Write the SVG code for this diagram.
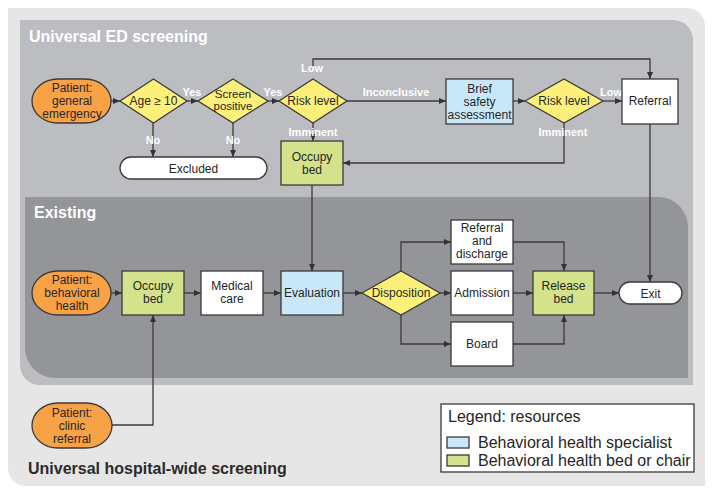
<svg xmlns="http://www.w3.org/2000/svg" width="714" height="495" viewBox="0 0 714 495">
<style>
text{font-family:"Liberation Sans",Arial,sans-serif;}
.t{font-size:12px;fill:#262626;text-anchor:middle;}
.lbl{font-size:11px;font-weight:bold;fill:#ffffff;text-anchor:middle;}
.title{font-size:16px;font-weight:bold;fill:#ffffff;}
.nd{stroke:#3a3a3a;stroke-width:1.3;}
.pat{fill:#f7a246;}
.dec{fill:#fdf07a;}
.bed{fill:#d4e38b;}
.spec{fill:#c8e8f8;}
.wht{fill:#ffffff;}
.cn{fill:none;stroke:#3a3a3a;stroke-width:1.3;}
</style>
<defs>
<marker id="ah" markerWidth="8" markerHeight="8" refX="7" refY="4" orient="auto" markerUnits="userSpaceOnUse">
<path d="M0,1 L7,4 L0,7 Z" fill="#333333"/>
</marker>
</defs>

<g id="panels">
<path d="M8,8 H687 A18,18 0 0 1 705,26 V486 H26 A18,18 0 0 1 8,468 Z" fill="#e6e6e7"/>
<path d="M20,20 H673 A20,20 0 0 1 693,40 V385 H40 A20,20 0 0 1 20,365 Z" fill="#bcbdc0"/>
<path d="M25,197 H658 A30,30 0 0 1 688,227 V378 H55 A30,30 0 0 1 25,348 Z" fill="#949599"/>
<text class="title" x="29" y="42">Universal ED screening</text>
<text class="title" x="34" y="218">Existing</text>
<text x="28" y="474" style="font-size:16px;font-weight:bold;fill:#2b2b2b">Universal hospital-wide screening</text>
</g>

<g id="connectors">
<path class="cn" d="M111,101 H120" marker-end="url(#ah)"/>
<path class="cn" d="M187,101 H198" marker-end="url(#ah)"/>
<path class="cn" d="M268,101 H279" marker-end="url(#ah)"/>
<path class="cn" d="M313,66 V59 H650 V79" marker-end="url(#ah)"/>
<path class="cn" d="M347,101 H446" marker-end="url(#ah)"/>
<path class="cn" d="M513,101 H525" marker-end="url(#ah)"/>
<path class="cn" d="M603,101 H622" marker-end="url(#ah)"/>
<path class="cn" d="M153,123 V157" marker-end="url(#ah)"/>
<path class="cn" d="M233,123 V157" marker-end="url(#ah)"/>
<path class="cn" d="M313,123 V141" marker-end="url(#ah)"/>
<path class="cn" d="M564,123 V163 H343" marker-end="url(#ah)"/>
<path class="cn" d="M312,185 V271" marker-end="url(#ah)"/>
<path class="cn" d="M650,124 V282" marker-end="url(#ah)"/>
<path class="cn" d="M111,293 H122" marker-end="url(#ah)"/>
<path class="cn" d="M184,293 H201" marker-end="url(#ah)"/>
<path class="cn" d="M263,293 H281" marker-end="url(#ah)"/>
<path class="cn" d="M343,293 H362" marker-end="url(#ah)"/>
<path class="cn" d="M401,271 V242 H451" marker-end="url(#ah)"/>
<path class="cn" d="M440,293 H451" marker-end="url(#ah)"/>
<path class="cn" d="M401,315 V344 H451" marker-end="url(#ah)"/>
<path class="cn" d="M513,242 H564 V271" marker-end="url(#ah)"/>
<path class="cn" d="M513,293 H533" marker-end="url(#ah)"/>
<path class="cn" d="M513,344 H564 V315" marker-end="url(#ah)"/>
<path class="cn" d="M594,293 H619" marker-end="url(#ah)"/>
<path class="cn" d="M112,425 H153 V315" marker-end="url(#ah)"/>
<text class="lbl" x="192" y="96">Yes</text>
<text class="lbl" x="273" y="96">Yes</text>
<text class="lbl" x="312" y="72">Low</text>
<text class="lbl" x="396" y="96">Inconclusive</text>
<text class="lbl" x="611" y="96">Low</text>
<text class="lbl" x="153" y="144">No</text>
<text class="lbl" x="233" y="144">No</text>
<text class="lbl" x="313" y="136">Imminent</text>
<text class="lbl" x="563" y="136">Imminent</text>
</g>

<g id="patient-general">
<rect class="nd pat" x="32" y="79" width="79" height="44" rx="26" ry="22"/>
<text class="t" x="72" y="92">Patient:</text>
<text class="t" x="72" y="105">general</text>
<text class="t" x="72" y="118">emergency</text>
</g>
<g id="age">
<polygon class="nd dec" points="120,101 153.5,79 187,101 153.5,123"/>
<text class="t" x="153.5" y="105">Age ≥ 10</text>
</g>
<g id="screen">
<polygon class="nd dec" points="198,101 233,79 268,101 233,123"/>
<text class="t" x="233" y="98" style="font-size:11.5px">Screen</text>
<text class="t" x="233" y="110" style="font-size:11.5px">positive</text>
</g>
<g id="risk1">
<polygon class="nd dec" points="279,101 313,79 347,101 313,123"/>
<text class="t" x="313" y="105">Risk level</text>
</g>
<g id="excluded">
<rect class="nd wht" x="120" y="157" width="147" height="22" rx="11"/>
<text class="t" x="193.5" y="173">Excluded</text>
</g>
<g id="occupy1">
<rect class="nd bed" x="281" y="141" width="62" height="44"/>
<text class="t" x="312" y="161">Occupy</text>
<text class="t" x="312" y="174">bed</text>
</g>
<g id="brief">
<rect class="nd spec" x="446" y="79" width="67" height="45"/>
<text class="t" x="479.5" y="93">Brief</text>
<text class="t" x="479.5" y="106">safety</text>
<text class="t" x="479.5" y="119">assessment</text>
</g>
<g id="risk2">
<polygon class="nd dec" points="525,101 564,79 603,101 564,123"/>
<text class="t" x="564" y="105">Risk level</text>
</g>
<g id="referral">
<rect class="nd wht" x="622" y="79" width="56" height="45"/>
<text class="t" x="650" y="105">Referral</text>
</g>

<g id="patient-bh">
<rect class="nd pat" x="32" y="271" width="79" height="44" rx="26" ry="22"/>
<text class="t" x="72" y="284">Patient:</text>
<text class="t" x="72" y="297">behavioral</text>
<text class="t" x="72" y="310">health</text>
</g>
<g id="occupy2">
<rect class="nd bed" x="122" y="271" width="62" height="44"/>
<text class="t" x="153" y="290">Occupy</text>
<text class="t" x="153" y="303">bed</text>
</g>
<g id="medical">
<rect class="nd wht" x="201" y="271" width="62" height="44"/>
<text class="t" x="232" y="290">Medical</text>
<text class="t" x="232" y="303">care</text>
</g>
<g id="evaluation">
<rect class="nd spec" x="281" y="271" width="62" height="44"/>
<text class="t" x="312" y="297">Evaluation</text>
</g>
<g id="disposition">
<polygon class="nd dec" points="362,293 401,271 440,293 401,315"/>
<text class="t" x="401" y="297">Disposition</text>
</g>
<g id="refdis">
<rect class="nd wht" x="451" y="220" width="62" height="44"/>
<text class="t" x="482" y="232">Referral</text>
<text class="t" x="482" y="245">and</text>
<text class="t" x="482" y="258">discharge</text>
</g>
<g id="admission">
<rect class="nd wht" x="451" y="271" width="62" height="44"/>
<text class="t" x="482" y="297">Admission</text>
</g>
<g id="board">
<rect class="nd wht" x="451" y="322" width="62" height="44"/>
<text class="t" x="482" y="348">Board</text>
</g>
<g id="release">
<rect class="nd bed" x="533" y="271" width="61" height="44"/>
<text class="t" x="563.5" y="290">Release</text>
<text class="t" x="563.5" y="303">bed</text>
</g>
<g id="exit">
<rect class="nd wht" x="619" y="282" width="63" height="22" rx="11"/>
<text class="t" x="650.5" y="297.5">Exit</text>
</g>

<g id="patient-clinic">
<rect class="nd pat" x="32" y="403" width="80" height="45" rx="26" ry="22.5"/>
<text class="t" x="72" y="417">Patient:</text>
<text class="t" x="72" y="430">clinic</text>
<text class="t" x="72" y="443">referral</text>
</g>

<g id="legend">
<rect x="441" y="404" width="253" height="68" fill="#ffffff" stroke="#3a3a3a" stroke-width="1.3"/>
<text x="448" y="422" style="font-size:16px;fill:#262626">Legend: resources</text>
<rect class="nd spec" x="447" y="437" width="22" height="11"/>
<text x="478" y="448" style="font-size:16px;fill:#262626">Behavioral health specialist</text>
<rect class="nd bed" x="447" y="455" width="22" height="11"/>
<text x="478" y="466" style="font-size:16px;fill:#262626">Behavioral health bed or chair</text>
</g>
</svg>
